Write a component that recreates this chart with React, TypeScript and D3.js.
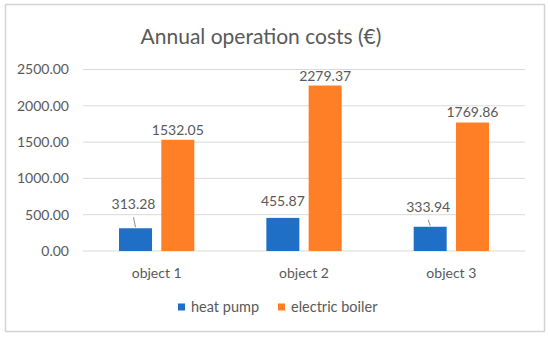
import * as d3 from "d3";

const categories = ["object 1", "object 2", "object 3"];
const seriesNames = ["heat pump", "electric boiler"];
const heatPump = [313.28, 455.87, 333.94];
const electricBoiler = [1532.05, 2279.37, 1769.86];
const yTicks = [0, 500, 1000, 1500, 2000, 2500];

const colors = ["#1f6fc6", "#fe7f26"];
const textColor = "#595959";
const gridColor = "#d9d9d9";
const font = "Lato, 'Open Sans', sans-serif";

// label lift above the bar top (px) and whether a leader line is drawn
const labelLift = [
  [19, 5],
  [12, 5],
  [15, 6],
];
const leader = [
  [true, false],
  [false, false],
  [true, false],
];

export default function App() {
  const width = 550;
  const height = 338;
  const margin = { top: 69.5, right: 25, bottom: 87, left: 83 };

  const x0 = d3
    .scaleBand()
    .domain(categories)
    .range([margin.left, width - margin.right]);

  const groupW = 75.3;
  const x1 = d3
    .scaleBand()
    .domain(seriesNames)
    .range([(x0.bandwidth() - groupW) / 2, (x0.bandwidth() + groupW) / 2])
    .paddingInner(0.22);

  const y = d3
    .scaleLinear()
    .domain([0, 2500])
    .range([height - margin.bottom, margin.top]);

  const values = [heatPump, electricBoiler];
  const fmt = d3.format(".2f");

  return (
    <svg
      width={width}
      height={height}
      style={{ display: "block", fontFamily: font, position: "absolute", left: 0, top: 0 }}
    >
      <rect x={0} y={0} width={width} height={height} fill="#fff" />
      <rect x={5.5} y={4.5} width={539} height={327} fill="#fff" stroke="#d4d4d4" strokeWidth={1.5} />
      <text x={width / 2 - 14} y={44} textAnchor="middle" fontSize={21} fill={textColor}>
        Annual operation costs (€)
      </text>

      {yTicks.map((t) => (
        <g key={t}>
          <line
            x1={margin.left}
            x2={width - margin.right}
            y1={y(t)}
            y2={y(t)}
            stroke={gridColor}
            strokeWidth={1}
          />
          <text x={69} y={y(t)} dy="0.35em" textAnchor="end" fontSize={14} fill={textColor}>
            {fmt(t)}
          </text>
        </g>
      ))}

      {categories.map((c, ci) => (
        <g key={c} transform={`translate(${x0(c)},0)`}>
          {seriesNames.map((s, si) => {
            const v = values[si][ci];
            const bx = x1(s)!;
            const cx = bx + x1.bandwidth() / 2;
            const top = y(v);
            const ly = top - labelLift[ci][si];
            const lx = leader[ci][si] ? cx - 2 : cx;
            return (
              <g key={s}>
                <rect
                  x={bx}
                  y={top}
                  width={x1.bandwidth()}
                  height={y(0) - top}
                  fill={colors[si]}
                />
                {leader[ci][si] && (
                  <line
                    x1={lx}
                    y1={ly + 8}
                    x2={cx}
                    y2={top - 1}
                    stroke="#8c8c8c"
                    strokeWidth={1}
                  />
                )}
                <text x={lx} y={ly} textAnchor="middle" fontSize={14} fill={textColor}>
                  {fmt(v)}
                </text>
              </g>
            );
          })}
          <text
            x={x0.bandwidth() / 2}
            y={y(0) + 22}
            dy="0.35em"
            textAnchor="middle"
            fontSize={14}
            fill={textColor}
          >
            {c}
          </text>
        </g>
      ))}

      {seriesNames.map((s, i) => {
        const lx = i === 0 ? 178 : 278;
        return (
          <g key={s} transform={`translate(${lx},307)`}>
            <rect x={0} y={-3.5} width={7} height={7} fill={colors[i]} />
            <text x={13} y={0} dy="0.35em" fontSize={14.5} fill={textColor}>
              {s}
            </text>
          </g>
        );
      })}
    </svg>
  );
}
